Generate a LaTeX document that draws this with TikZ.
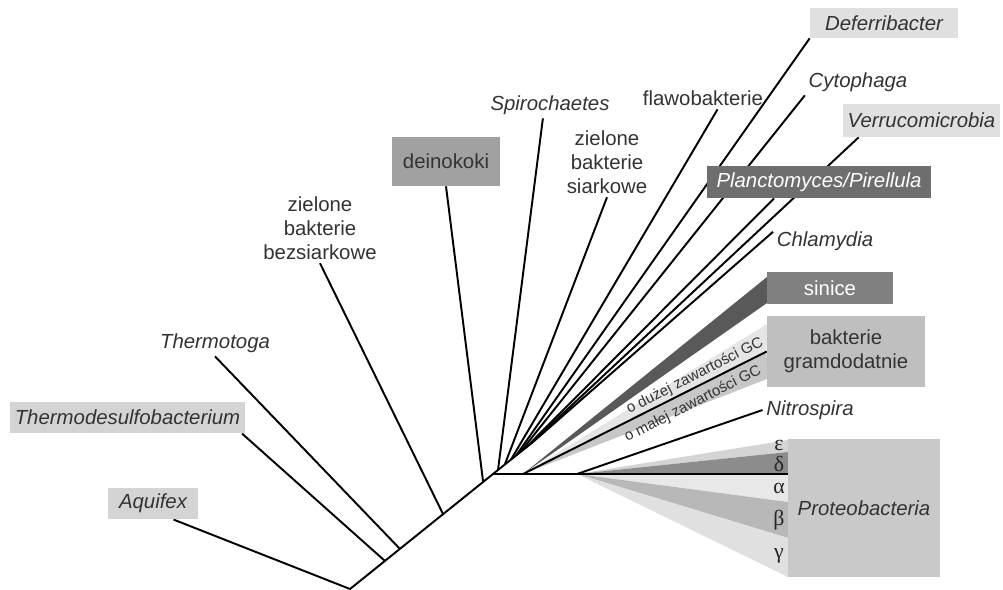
\documentclass[tikz,border=0pt]{standalone}
\usepackage{fontspec}
\setmainfont{Liberation Sans}
\newfontfamily\greckie{Liberation Serif}
\usetikzlibrary{positioning,calc}

\definecolor{bjasny}{gray}{0.83}
\definecolor{bbjasny}{gray}{0.88}
\definecolor{bsredni}{gray}{0.63}
\definecolor{bciemny}{gray}{0.43}
\definecolor{bsinice}{gray}{0.5}
\definecolor{bgram}{gray}{0.75}
\definecolor{bproteo}{gray}{0.79}
\definecolor{kliniec}{gray}{0.35}
\definecolor{gcduzo}{gray}{0.9}
\definecolor{gcmalo}{gray}{0.78}
\definecolor{kepsilon}{gray}{0.83}
\definecolor{kdelta}{gray}{0.55}
\definecolor{kalfa}{gray}{0.91}
\definecolor{kbeta}{gray}{0.72}
\definecolor{kgamma}{gray}{0.88}

\pgfdeclarelayer{tlo}
\pgfsetlayers{tlo,main}

\begin{document}
\begin{tikzpicture}[x=0.02cm, y=-0.02cm,
    every node/.style={font=\fontsize{11.6}{13.6}\selectfont, text=black!80, inner sep=2pt},
    takson/.style={font=\fontsize{11.6}{13.6}\selectfont\itshape},
    ramka/.style={fill=#1, minimum height=0.63cm},
    galaz/.style={line width=1.1pt, line join=round},
    grecka/.style={font=\fontsize{12.4}{13.6}\greckie\selectfont, text=black!85, inner sep=0pt},
    gc/.style={font=\fontsize{8.6}{9}\selectfont, rotate=27, inner sep=0pt}]
\useasboundingbox (0,0) rectangle (1003,590);

\coordinate (R) at (350,589);
\coordinate (t1) at (385,561);
\coordinate (t2) at (400,549);
\coordinate (t3) at (443,514);
\coordinate (t4) at (483,481);
\coordinate (H) at (493,474);
\coordinate (s1) at (498,470);
\coordinate (s2) at (505,464);
\coordinate (s3) at (511,459.6);
\coordinate (s4) at (516,455.6);
\coordinate (s5) at (520,452.4);
\coordinate (s6) at (525,448.4);
\coordinate (s7) at (529,445.2);
\coordinate (s8) at (533,442);
\coordinate (g0) at (523,474);
\coordinate (n0) at (577,474);

\node[ramka=bjasny, takson, minimum width=1.8cm] (aquifex) at (153,503.5) {Aquifex};
\node[ramka=bjasny, takson, minimum width=4.7cm] (thermodesulfo) at (127.5,417.5) {Thermodesulfobacterium};
\node[takson] (thermotoga) at (215,343) {Thermotoga};
\node[align=center] (bezsiarkowe) at (320,228) {zielone\\bakterie\\bezsiarkowe};
\node[ramka=bsredni, minimum width=2.16cm, minimum height=0.98cm] (deinokoki) at (446,161.5) {deinokoki};
\node[takson] (spirochaetes) at (550,105) {Spirochaetes};
\node[align=center] (siarkowe) at (607,162) {zielone\\bakterie\\siarkowe};
\node (flawo) at (703,98) {flawobakterie};
\node[ramka=bbjasny, takson, minimum width=2.96cm, minimum height=0.6cm] (deferri) at (884,23) {Deferribacter};
\node[takson] (cytophaga) at (858,82) {Cytophaga};
\node[ramka=bbjasny, takson, minimum width=3.14cm, minimum height=0.66cm] (verruco) at (921.5,120.5) {Verrucomicrobia};
\node[ramka=bciemny, takson, text=white, minimum width=4.48cm, minimum height=0.64cm] (plancto) at (819,182) {Planctomyces/Pirellula};
\node[takson] (chlamydia) at (825,241) {Chlamydia};
\node[ramka=bsinice, text=white, minimum width=2.52cm, minimum height=0.64cm] (sinice) at (830,288) {sinice};
\node[ramka=bgram, align=center, minimum width=3.16cm, minimum height=1.42cm] (gram) at (846,351.5) {bakterie\\gramdodatnie};
\node[takson] (nitrospira) at (810,410) {Nitrospira};
\node[ramka=bproteo, takson, minimum width=3.04cm, minimum height=2.76cm] (proteo) at (864,508) {Proteobacteria};

\begin{pgfonlayer}{tlo}
\fill[kliniec] (g0) -- (767,277) -- (767,303) -- cycle;
\fill[gcduzo] (g0) -- (767,324) -- (gram.west) -- cycle;
\fill[gcmalo] (g0) -- (gram.west) -- (767,379) -- cycle;
\fill[kepsilon] (n0) -- (788,440) -- (788,452) -- cycle;
\fill[kdelta] (n0) -- (788,452) -- (788,474) -- cycle;
\fill[kalfa] (n0) -- (788,474) -- (788,502) -- cycle;
\fill[kbeta] (n0) -- (788,502) -- (788,538) -- cycle;
\fill[kgamma] (n0) -- (788,538) -- (788,577) -- cycle;
\draw[galaz] (aquifex.-38) -- (R) -- (H) -- (s8);
\draw[galaz] (t1) -- (thermodesulfo.-8.4);
\draw[galaz] (t2) -- (thermotoga.south);
\draw[galaz] (t3) -- (bezsiarkowe.south);
\draw[galaz] (t4) -- (deinokoki.south);
\draw[galaz] (s1) -- (spirochaetes.-118);
\draw[galaz] (s2) -- (siarkowe.south);
\draw[galaz] (s3) -- (flawo.-38);
\draw[galaz] (s4) -- (deferri.south west);
\draw[galaz] (s5) -- (cytophaga.south west);
\draw[galaz] (s6) -- (plancto.-160);
\draw[galaz] (s7) -- (verruco.-165);
\draw[galaz] (s8) -- (chlamydia.170);
\draw[galaz] (g0) -- (gram.west);
\draw[galaz] (n0) -- (nitrospira.west);
\draw[galaz] (H) -- (H -| proteo.west);
\end{pgfonlayer}

\node[gc] (gcduza) at (695,376) {o dużej zawartości GC};
\node[gc] (gcmala) at (693,404) {o małej zawartości GC};
\node[grecka] (epsilon) at (779,445) {ε};
\node[grecka] (delta) at (779,464) {δ};
\node[grecka] (alfa) at (779,488) {α};
\node[grecka] (beta) at (779,520) {β};
\node[grecka] (gamma) at (779,556) {γ};
\end{tikzpicture}
\end{document}
